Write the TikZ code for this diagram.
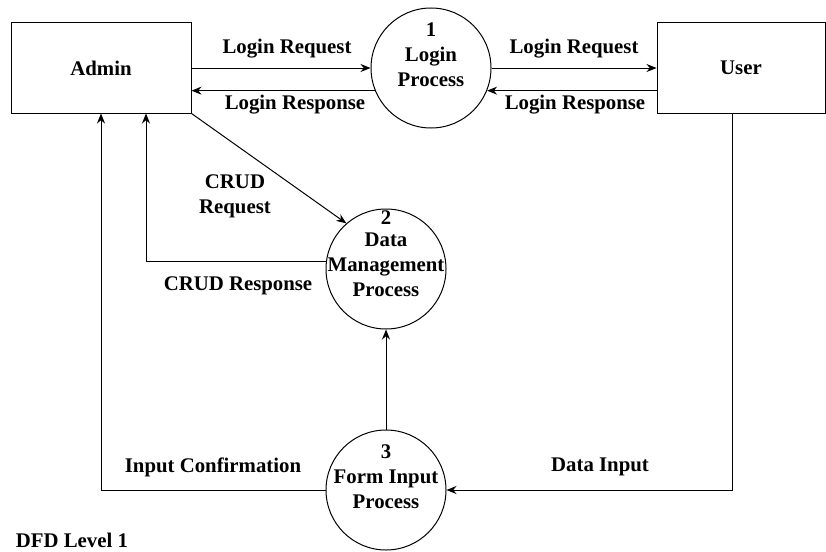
\documentclass[tikz,border=0pt]{standalone}
\usepackage{fontspec}
\setmainfont{Liberation Serif}
\usetikzlibrary{arrows.meta}

\begin{document}
\begin{tikzpicture}
[x=1pt, y=-1pt, line width=1pt,
 font=\fontsize{20.8}{25}\selectfont\bfseries,
 entity/.style={draw, rectangle, minimum height=90pt, inner sep=0pt},
 process/.style={draw, circle, minimum size=120pt, inner sep=0pt},
 flow/.style={-{Stealth[length=10pt,width=8pt]}},
 txt/.style={align=center, inner sep=0pt}]
\useasboundingbox (0,0) rectangle (826,551);

\node [entity, minimum width=180pt] (admin) at (101,68) {Admin};
\node [entity, minimum width=168pt] (user) at (741,68) {User};

\node [process] (login) at (431,68) {};
\node [process] (data) at (386,269) {};
\node [process] (form) at (386,490) {};

\node [txt] (logintext) at (431,55) {1\\Login\\Process};
\node [txt] (datanum) at (386,218) {2};
\node [txt] (datatext) at (386,265) {Data\\Management\\Process};
\node [txt] (formtext) at (386,477) {3\\Form Input\\Process};

\draw [flow] (admin.east) -- (login.west);
\draw [flow] (login.202) -- (login.202 -| admin.east);
\draw [flow] (login.east) -- (user.west);
\draw [flow] (login.-22 -| user.west) -- (login.-22);

\draw [flow] (admin.south east) -- (data.131);
\draw [flow] (data.173) -| ([xshift=45pt]admin.south);
\draw [flow] (form.west) -| (admin.south);
\draw [flow] ([xshift=-9pt]user.south) |- (form.east);
\draw [flow] (form.north) -- (data.south);

\node (req1) at (287,49) {Login Request};
\node (resp1) at (295,105) {Login Response};
\node (req2) at (574,49) {Login Request};
\node (resp2) at (575,105) {Login Response};
\node [align=center] (crudreq) at (235,196) {CRUD\\Request};
\node (crudresp) at (238,286) {CRUD Response};
\node (confirm) at (213,467) {Input Confirmation};
\node (input) at (600,467) {Data Input};
\node [anchor=west] (title) at (12,540) {DFD Level 1};
\end{tikzpicture}
\end{document}
